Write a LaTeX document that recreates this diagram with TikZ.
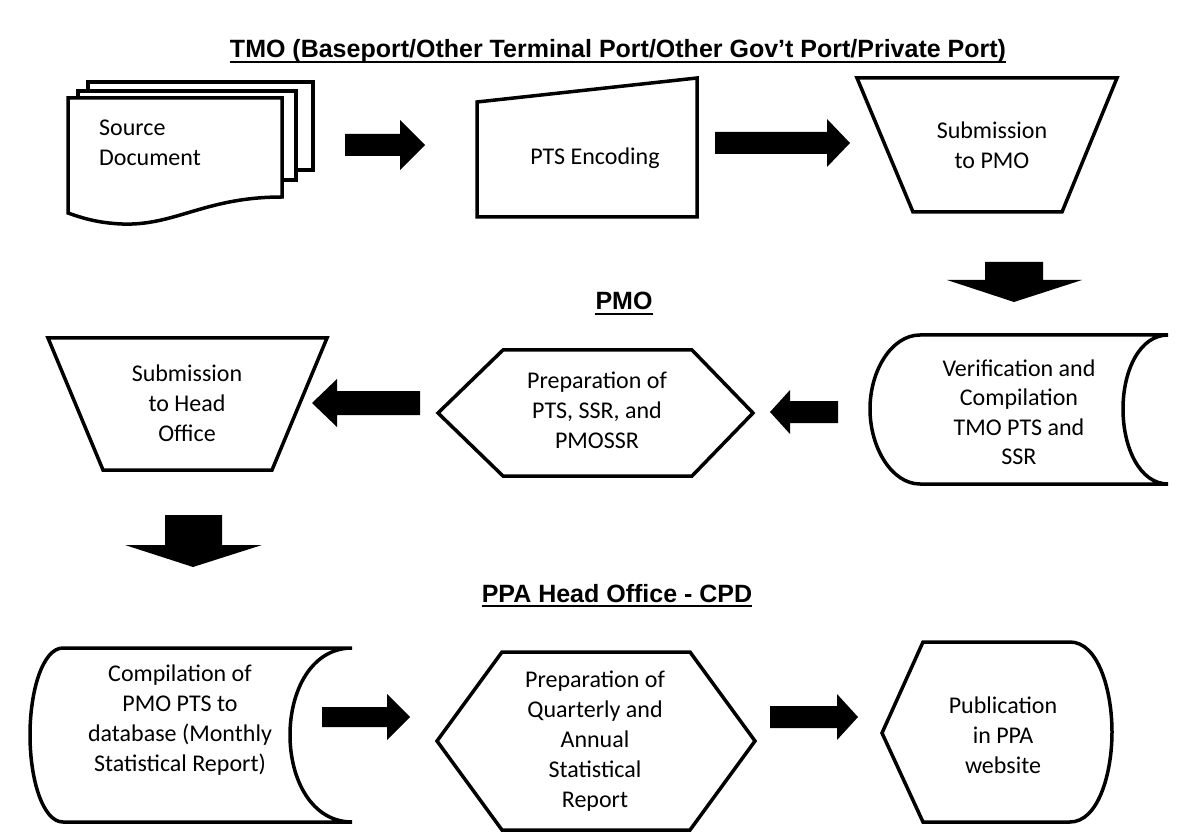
\documentclass[tikz,border=0pt]{standalone}
\usepackage{fontspec}
\setmainfont{Carlito}
\newfontfamily\titlefont{Liberation Sans}
\begin{document}
\begin{tikzpicture}[x=1pt,y=-1pt,
  shp/.style={draw=black, line width=3.5pt, line join=miter, fill=white},
  lbl/.style={align=center, font=\fontsize{24}{30}\selectfont, inner sep=0pt},
  ttl/.style={font=\titlefont\bfseries\fontsize{25}{30}\selectfont, inner sep=0pt, anchor=base},
  uline/.style={line width=2.5pt},
  blk/.style={fill=black, draw=none}]
\useasboundingbox (0,0) rectangle (1181,834);

% ---------- titles ----------
\node[ttl] (t1) at (618,58) {TMO (Baseport/Other Terminal Port/Other Gov’t Port/Private Port)};
\draw[uline] ([yshift=-4pt]t1.base west) -- ([yshift=-4pt]t1.base east);
\node[ttl] (t2) at (624,310) {PMO};
\draw[uline] ([yshift=-4pt]t2.base west) -- ([yshift=-4pt]t2.base east);
\node[ttl] (t3) at (617,602) {PPA Head Office - CPD};
\draw[uline] ([yshift=-4pt]t3.base west) -- ([yshift=-4pt]t3.base east);

% ---------- row 1 ----------
% multi-document
\draw[shp] (88,82) rectangle (313,170);
\draw[shp] (78,91) rectangle (296,180);
\draw[shp] (68,98) -- (282,98) -- (282,197)
  .. controls (205,197) and (175,226) .. (122,224)
  .. controls (98,223) and (82,218) .. (68,213) -- cycle;
\node[lbl, align=left] (src) at (150,143) {Source\\Document};

% manual input
\draw[shp] (477,102) -- (697,78) -- (697,217) -- (477,217) -- cycle;
\node[lbl] (pts) at (595,158) {PTS Encoding};

% manual operation
\draw[shp] (857,78) -- (1117,78) -- (1062,212) -- (913,212) -- cycle;
\node[lbl] (subpmo) at (992,145) {Submission\\to PMO};

% ---------- row 2 ----------
% stored data
\draw[shp] (920,335) -- (1168,335)
  .. controls (1140,335) and (1123,370) .. (1123,409)
  .. controls (1123,448) and (1140,484) .. (1168,484)
  -- (920,484)
  .. controls (892,484) and (870,448) .. (870,409)
  .. controls (870,370) and (892,335) .. (920,335) -- cycle;
\node[lbl, font=\fontsize{24}{29.5}\selectfont] (ver) at (1019,412) {Verification and\\Compilation\\TMO PTS and\\SSR};

% preparation hexagon
\draw[shp] (438,413) -- (503,350) -- (692,350) -- (753,413) -- (692,476) -- (503,476) -- cycle;
\node[lbl] (prep) at (597,410) {Preparation of\\PTS, SSR, and\\PMOSSR};

% manual operation
\draw[shp] (48,338) -- (327,338) -- (272,470) -- (103,470) -- cycle;
\node[lbl] (subho) at (187,403) {Submission\\to Head\\Office};

% ---------- row 3 ----------
\draw[shp] (63,648) -- (352,648)
  .. controls (312,648) and (290,690) .. (290,735)
  .. controls (290,780) and (312,822) .. (352,822)
  -- (63,822)
  .. controls (43,822) and (30,780) .. (30,735)
  .. controls (30,690) and (43,648) .. (63,648) -- cycle;
\node[lbl] (comp) at (180,720) {Compilation of\\PMO PTS to\\database (Monthly\\Statistical Report)};

\draw[shp] (437,741) -- (502,652) -- (690,652) -- (755,741) -- (690,830) -- (502,830) -- cycle;
\node[lbl] (quart) at (595,741) {Preparation of\\Quarterly and\\Annual\\Statistical\\Report};

\draw[shp] (882,733) -- (923,642) -- (1070,642)
  .. controls (1098,642) and (1112,690) .. (1112,732)
  .. controls (1112,774) and (1098,822) .. (1070,822)
  -- (923,822) -- cycle;
\node[lbl] (pub) at (1003,735) {Publication\\in PPA\\website};

% ---------- block arrows ----------
% right arrows
\fill[blk] (345,134) -- (400,134) -- (400,120) -- (425,145) -- (400,170) -- (400,156) -- (345,156) -- cycle;
\fill[blk] (715,132) -- (827,132) -- (827,119) -- (850,143) -- (827,167) -- (827,154) -- (715,154) -- cycle;
\fill[blk] (322,707) -- (387,707) -- (387,694) -- (410,717) -- (387,740) -- (387,727) -- (322,727) -- cycle;
\fill[blk] (770,706) -- (837,706) -- (837,694) -- (858,717) -- (837,740) -- (837,728) -- (770,728) -- cycle;
% left arrows
\fill[blk] (838,401) -- (790,401) -- (790,390) -- (770,412) -- (790,434) -- (790,423) -- (838,423) -- cycle;
\fill[blk] (420,391) -- (337,391) -- (337,379) -- (312,403) -- (337,427) -- (337,415) -- (420,415) -- cycle;
% down arrows
\fill[blk] (985,262) -- (1043,262) -- (1043,280) -- (1082,280) -- (1014,302) -- (947,280) -- (985,280) -- cycle;
\fill[blk] (165,515) -- (222,515) -- (222,545) -- (262,545) -- (193,567) -- (125,545) -- (165,545) -- cycle;
\end{tikzpicture}
\end{document}
